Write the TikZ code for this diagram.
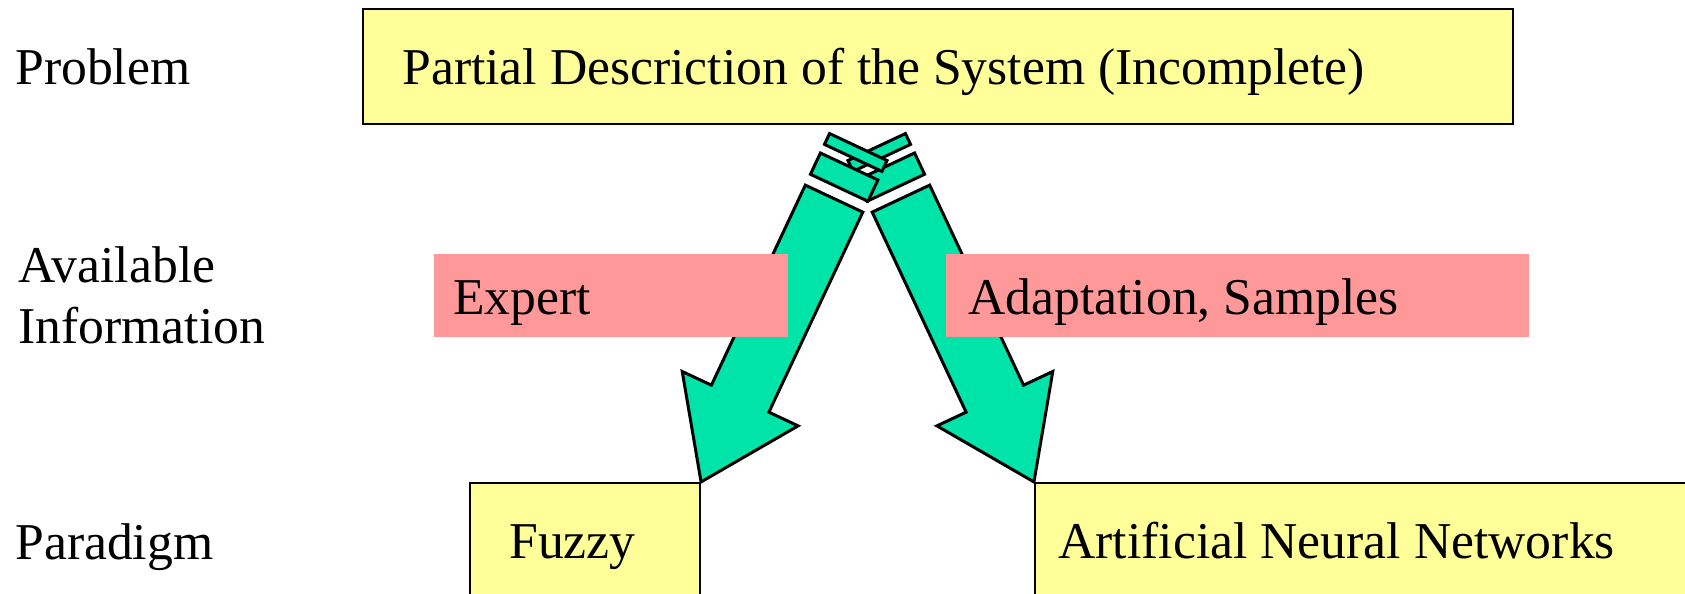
\documentclass[tikz,border=0pt]{standalone}
\usepackage{fontspec}
\setmainfont{Liberation Serif}
\usetikzlibrary{positioning,fit}
\definecolor{paleyellow}{RGB}{255,255,153}
\definecolor{salmonpink}{RGB}{255,153,153}
\definecolor{mintgreen}{RGB}{0,228,170}
\newcommand{\slidefont}{\fontsize{29.4}{35.1}\selectfont}
\tikzset{
  txt/.style={anchor=base west,inner sep=0pt,font=\slidefont,align=left},
  yellowbox/.style={draw=black,fill=paleyellow,inner sep=0pt},
  pinkbox/.style={fill=salmonpink,inner sep=0pt},
  arrowbody/.style={draw=black,fill=mintgreen,line width=1.7pt},
  stripedarrow/.pic={
    \draw[arrowbody] (-31.75,-313) -- (31.75,-313) -- (31.75,-92) -- (64,-92)
      -- (0,0) -- (-64,-92) -- (-31.75,-92) -- cycle;
    \draw[arrowbody] (-31.75,-348.5) rectangle (31.75,-325);
    \draw[arrowbody] (-31.75,-370) rectangle (31.75,-358);
  }
}

\begin{document}
\begin{tikzpicture}[x=0.02cm,y=-0.02cm]
\useasboundingbox (0,0) rectangle (1685,594);
\begin{scope}
\clip (0,0) rectangle (1685,594);

% row labels
\node[txt] (problem) at (15,85) {Problem};
\node[txt] (avail) at (18,344) {Available\\Information};
\node[txt] (paradigm) at (15,560) {Paradigm};

% problem box
\node[yellowbox, line width=1.6pt, fit={(363,9) (1513,124)}] (desc) {};
\node[txt] (desctxt) at (402,85) {Partial Descriction of the System (Incomplete)};

% paradigm boxes
\node[yellowbox, line width=1.2pt, fit={(470,483) (700,640)}] (fuzzy) {};
\node[yellowbox, line width=1.2pt, fit={(1035,483) (1700,640)}] (ann) {};
\node[txt] (fuzzytxt) at (509,559) {Fuzzy};
\node[txt] (anntxt) at (1058,559) {Artificial Neural Networks};

% block arrows
\pic[rotate=25.15] at (ann.north west) {stripedarrow};
\pic[rotate=-25.15] at (fuzzy.north east) {stripedarrow};

% information boxes
\node[pinkbox, fit={(434,254) (788,337)}] (expert) {};
\node[pinkbox, fit={(946,254) (1529,337)}] (adapt) {};
\node[txt] (experttxt) at (453,315) {Expert};
\node[txt] (adapttxt) at (968,315) {Adaptation, Samples};
\end{scope}
\end{tikzpicture}
\end{document}
